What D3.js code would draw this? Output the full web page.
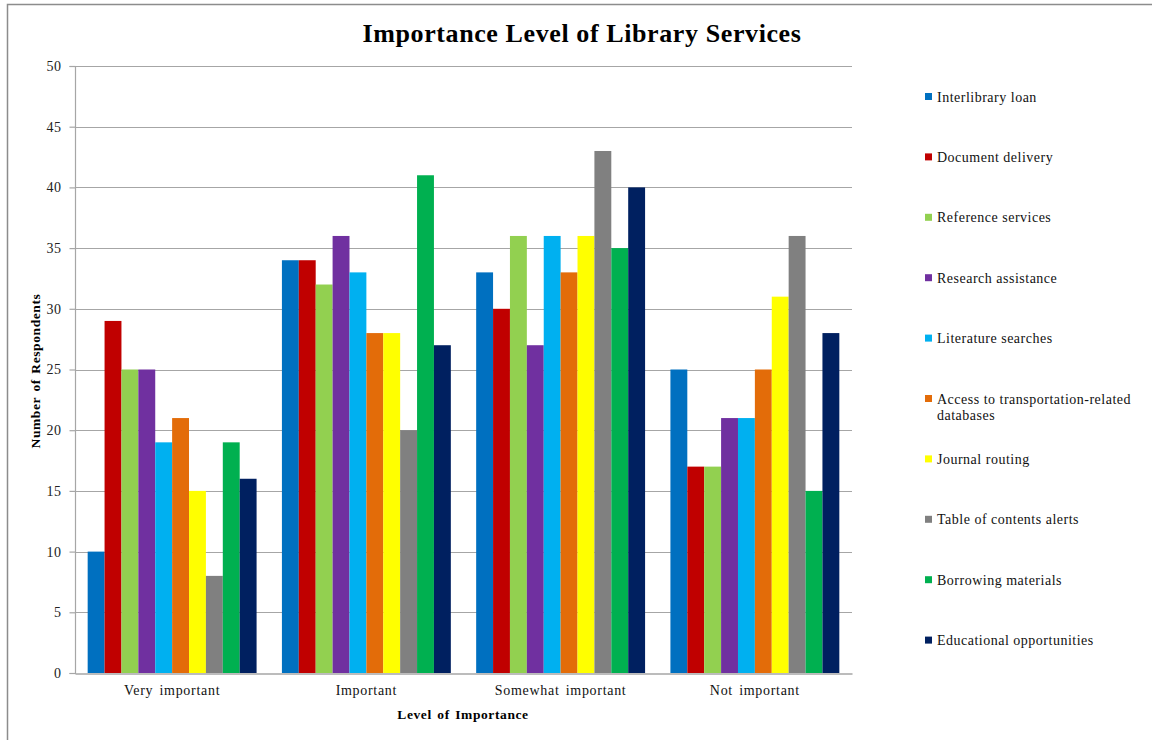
<!DOCTYPE html>
<html>
<head>
<meta charset="utf-8">
<script src="https://cdn.jsdelivr.net/npm/d3@7"></script>
<style>
  html, body { margin: 0; padding: 0; background: #fff; }
  svg { display: block; }
  text { font-family: "Liberation Serif", "Times New Roman", serif; }
</style>
</head>
<body>
<svg id="chart" width="1152" height="740"></svg>
<script>
// Response categories along the x axis
const categories = ["Very important", "Important", "Somewhat important", "Not important"];

// Library services (one bar per service in each category)
const services = [
  "Interlibrary loan",
  "Document delivery",
  "Reference services",
  "Research assistance",
  "Literature searches",
  "Access to transportation-related databases",
  "Journal routing",
  "Table of contents alerts",
  "Borrowing materials",
  "Educational opportunities"
];

// Respondent counts per service, in category order
const interlibraryLoan         = [10, 34, 33, 25];
const documentDelivery         = [29, 34, 30, 17];
const referenceServices        = [25, 32, 36, 17];
const researchAssistance       = [25, 36, 27, 21];
const literatureSearches       = [19, 33, 36, 21];
const transportationDatabases  = [21, 28, 33, 25];
const journalRouting           = [15, 28, 36, 31];
const contentsAlerts           = [8, 20, 43, 36];
const borrowingMaterials       = [19, 41, 35, 15];
const educationalOpportunities = [16, 27, 40, 28];

const seriesValues = [
  interlibraryLoan, documentDelivery, referenceServices, researchAssistance,
  literatureSearches, transportationDatabases, journalRouting, contentsAlerts,
  borrowingMaterials, educationalOpportunities
];

const colors = ["#0070C0", "#C00000", "#92D050", "#7030A0", "#00B0F0",
                "#E36C09", "#FFFF00", "#808080", "#00B050", "#002060"];

const yTicks = [0, 5, 10, 15, 20, 25, 30, 35, 40, 45, 50];

const svg = d3.select("#chart");

// Outer frame
svg.append("path")
  .attr("d", "M7.5,740 V4.5 H1152")
  .attr("fill", "none")
  .attr("stroke", "#8c8c8c")
  .attr("stroke-width", 1.5);

const plot = { left: 75, right: 852, top: 66, bottom: 673 };

const x0 = d3.scaleBand()
  .domain(categories)
  .range([plot.left, plot.right])
  .paddingInner(0)
  .paddingOuter(0);

const innerPad = 1.5 / 11.5;
const x1 = d3.scaleBand()
  .domain(d3.range(services.length))
  .range([x0.bandwidth() * innerPad / 2, x0.bandwidth() * (1 - innerPad / 2)]);

const y = d3.scaleLinear().domain([0, 50]).range([plot.bottom, plot.top]);

// Gridlines
svg.append("g")
  .selectAll("line")
  .data(yTicks.filter(t => t > 0))
  .join("line")
  .attr("x1", plot.left)
  .attr("x2", plot.right)
  .attr("y1", d => Math.round(y(d)) + 0.5)
  .attr("y2", d => Math.round(y(d)) + 0.5)
  .attr("stroke", "#a6a6a6")
  .attr("stroke-width", 1.2);

// Bars
const groups = svg.append("g")
  .selectAll("g")
  .data(categories)
  .join("g")
  .attr("transform", d => `translate(${x0(d)},0)`);

groups.selectAll("rect")
  .data((c, ci) => seriesValues.map((vals, si) => ({ si, v: vals[ci] })))
  .join("rect")
  .attr("x", d => x1(d.si))
  .attr("width", x1.bandwidth())
  .attr("y", d => y(d.v))
  .attr("height", d => y(0) - y(d.v))
  .attr("fill", d => colors[d.si]);

// Y axis
const yAxis = svg.append("g")
  .attr("transform", `translate(${plot.left + 0.5},0)`)
  .call(d3.axisLeft(y).tickValues(yTicks).tickSize(6).tickPadding(8));
yAxis.select(".domain").attr("stroke", "#a6a6a6").attr("stroke-width", 1.2)
  .attr("d", `M-6,${plot.top + 0.5}H0V${plot.bottom + 0.5}H-6`);
yAxis.selectAll(".tick line").attr("stroke", "#a6a6a6").attr("stroke-width", 1.2);
yAxis.selectAll(".tick text")
  .attr("font-family", "Liberation Serif, Times New Roman, serif")
  .attr("font-size", 14)
  .attr("letter-spacing", 0.5)
  .attr("fill", "#222");

// X axis
const xAxis = svg.append("g")
  .attr("transform", `translate(0,${plot.bottom + 0.5})`)
  .call(d3.axisBottom(x0).tickSize(0).tickPadding(12));
xAxis.select(".domain").attr("stroke", "#a6a6a6").attr("stroke-width", 1.5);
xAxis.selectAll(".tick text")
  .attr("font-family", "Liberation Serif, Times New Roman, serif")
  .attr("font-size", 14)
  .attr("letter-spacing", 0.7)
  .attr("word-spacing", 2)
  .attr("fill", "#111");

// Title
svg.append("text")
  .attr("x", 582)
  .attr("y", 42)
  .attr("text-anchor", "middle")
  .attr("font-size", 26)
  .attr("letter-spacing", 0.6)
  .attr("font-weight", "bold")
  .attr("fill", "#000")
  .text("Importance Level of Library Services");

// Axis titles
svg.append("text")
  .attr("transform", "translate(40,371) rotate(-90)")
  .attr("text-anchor", "middle")
  .attr("font-size", 13.5)
  .attr("letter-spacing", 0.6)
  .attr("word-spacing", 1.5)
  .attr("font-weight", "bold")
  .attr("fill", "#000")
  .text("Number of Respondents");

svg.append("text")
  .attr("x", 463)
  .attr("y", 719)
  .attr("text-anchor", "middle")
  .attr("font-size", 13.5)
  .attr("letter-spacing", 0.6)
  .attr("word-spacing", 1.5)
  .attr("font-weight", "bold")
  .attr("fill", "#000")
  .text("Level of Importance");

// Legend
const legendTop = 97;
const legendStep = 60.4;
const legend = svg.append("g");
services.forEach((name, i) => {
  const cy = legendTop + i * legendStep;
  legend.append("rect")
    .attr("x", 925)
    .attr("y", cy - 4)
    .attr("width", 7)
    .attr("height", 7)
    .attr("fill", colors[i]);
  const t = legend.append("text")
    .attr("x", 937)
    .attr("y", cy + 4.5)
    .attr("font-size", 14)
    .attr("letter-spacing", 0.5)
    .attr("fill", "#111");
  if (name === "Access to transportation-related databases") {
    t.append("tspan").attr("x", 937).text("Access to transportation-related");
    t.append("tspan").attr("x", 937).attr("dy", 16).text("databases");
  } else {
    t.text(name);
  }
});
</script>
</body>
</html>
